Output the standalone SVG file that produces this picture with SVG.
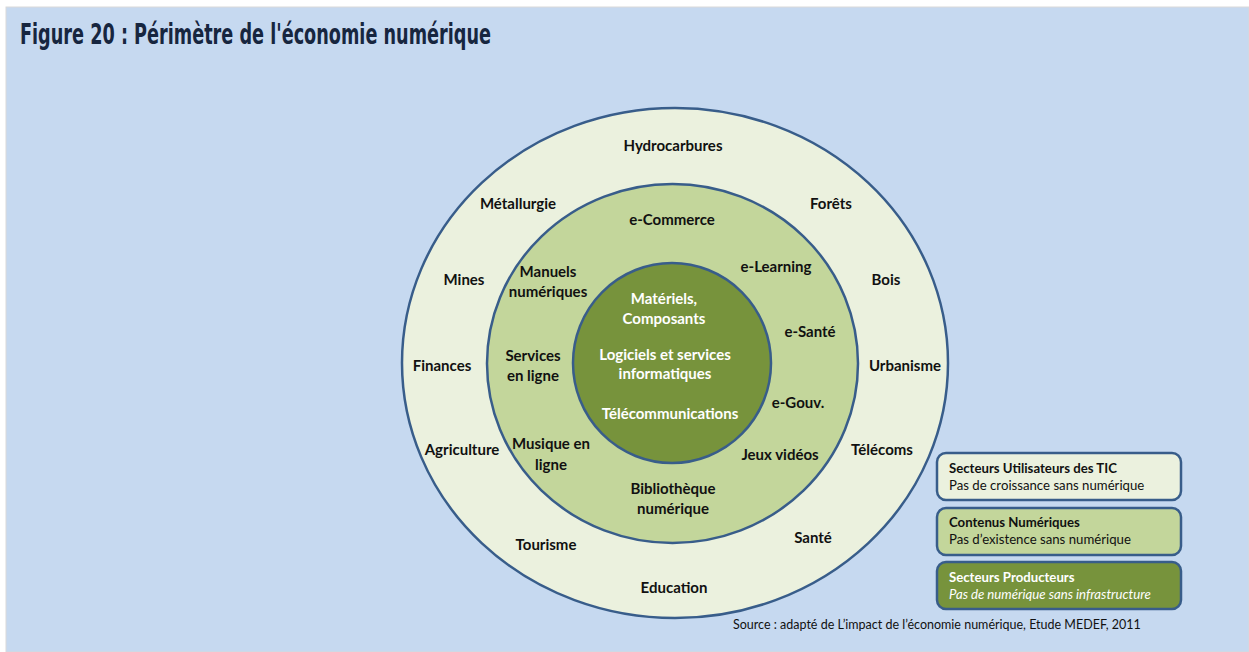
<svg xmlns="http://www.w3.org/2000/svg" width="1249" height="652" viewBox="0 0 1249 652">
<style>
.lbl{font-family:Lato,"Open Sans","Liberation Sans",sans-serif;font-weight:bold;font-size:15px;fill:#111;text-anchor:middle}
.w{fill:#fff}
.ring{stroke:#385d8a;stroke-width:2.5}
.box{stroke:#385d8a;stroke-width:2.5}
.lg{font-family:Lato,"Open Sans","Liberation Sans",sans-serif;font-size:13.2px;fill:#111}
.lgb{font-weight:bold}
</style>
<rect x="0" y="0" width="1249" height="652" fill="#ffffff"/>
<rect x="6" y="7" width="1243" height="645" fill="#c6d9f0" stroke="#d9d9d9" stroke-width="1"/>
<text x="20" y="44" font-family="'DejaVu Sans Condensed','DejaVu Sans',sans-serif" font-weight="bold" font-size="29" fill="#17263f" textLength="471" lengthAdjust="spacingAndGlyphs">Figure 20 : Périmètre de l'économie numérique</text>
<g id="outer-ring">
<ellipse class="ring" cx="675" cy="363" rx="273" ry="255" fill="#ebf1de"/>
<text class="lbl" x="673" y="151">Hydrocarbures</text>
<text class="lbl" x="518" y="209">Métallurgie</text>
<text class="lbl" x="831" y="209">Forêts</text>
<text class="lbl" x="464" y="285">Mines</text>
<text class="lbl" x="886" y="285">Bois</text>
<text class="lbl" x="442" y="371">Finances</text>
<text class="lbl" x="905" y="371">Urbanisme</text>
<text class="lbl" x="462" y="455">Agriculture</text>
<text class="lbl" x="882" y="455">Télécoms</text>
<text class="lbl" x="546" y="550">Tourisme</text>
<text class="lbl" x="813" y="543">Santé</text>
<text class="lbl" x="674" y="593">Education</text>
</g>
<g id="middle-ring">
<ellipse class="ring" cx="672.5" cy="363.5" rx="185.5" ry="179.5" fill="#c3d69b"/>
<text class="lbl" x="672" y="225">e-Commerce</text>
<text class="lbl" x="776" y="272">e-Learning</text>
<text class="lbl" x="548" y="277">Manuels</text>
<text class="lbl" x="548" y="297">numériques</text>
<text class="lbl" x="810" y="337">e-Santé</text>
<text class="lbl" x="533" y="361">Services</text>
<text class="lbl" x="533" y="381">en ligne</text>
<text class="lbl" x="798" y="408">e-Gouv.</text>
<text class="lbl" x="551" y="449">Musique en</text>
<text class="lbl" x="551" y="470">ligne</text>
<text class="lbl" x="780" y="460">Jeux vidéos</text>
<text class="lbl" x="673" y="494">Bibliothèque</text>
<text class="lbl" x="673" y="514">numérique</text>
</g>
<g id="inner-core">
<ellipse class="ring" cx="672" cy="363" rx="99" ry="100" fill="#77933c"/>
<text class="lbl w" x="664" y="304" font-size="13.3">Matériels,</text>
<text class="lbl w" x="664" y="324" font-size="13.3">Composants</text>
<text class="lbl w" x="665" y="360" font-size="13.3">Logiciels et services</text>
<text class="lbl w" x="665" y="379" font-size="13.3">informatiques</text>
<text class="lbl w" x="670" y="419" font-size="13.3">Télécommunications</text>
</g>
<g id="legend-users">
<rect class="box" x="937" y="453" width="244" height="47" rx="9" fill="#ebf1de"/>
<text class="lg lgb" x="949" y="473">Secteurs Utilisateurs des TIC</text>
<text class="lg" x="949" y="490">Pas de croissance sans numérique</text>
</g>
<g id="legend-contents">
<rect class="box" x="937" y="508" width="244" height="47" rx="9" fill="#c3d69b"/>
<text class="lg lgb" x="949" y="527">Contenus Numériques</text>
<text class="lg" x="949" y="544">Pas d’existence sans numérique</text>
</g>
<g id="legend-producers">
<rect class="box" x="937" y="562" width="244" height="47" rx="9" fill="#77933c"/>
<text class="lg lgb" x="949" y="582" style="fill:#fff">Secteurs Producteurs</text>
<text class="lg" x="949" y="599" font-style="italic" style="fill:#fff">Pas de numérique sans infrastructure</text>
</g>
<g id="connectors"></g>
<text x="733" y="629" font-family="Lato,'Open Sans','Liberation Sans',sans-serif" font-size="12.5" fill="#111">Source : adapté de L’impact de l’économie numérique, Etude MEDEF, 2011</text>
</svg>
